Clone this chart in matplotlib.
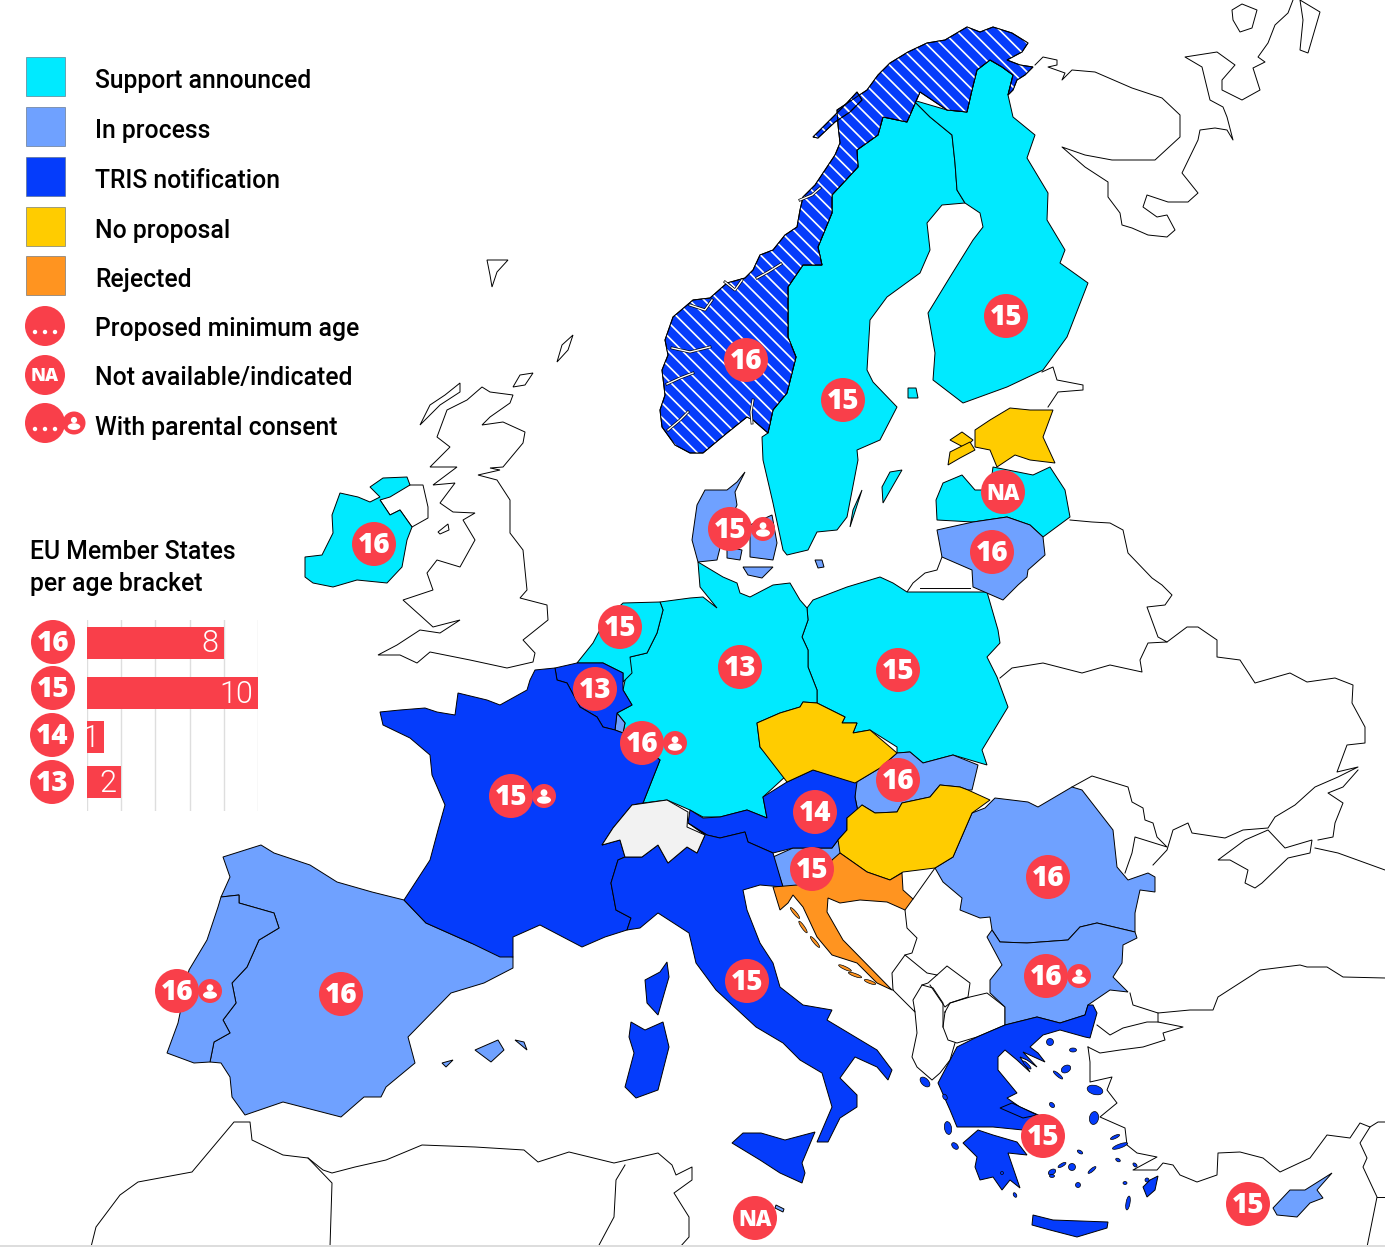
import numpy as np
import matplotlib
matplotlib.use("Agg")
import matplotlib.pyplot as plt
from matplotlib.patches import Polygon, Circle, Ellipse, Rectangle

W, H = 1385, 1247
LABEL_FONT = ['Roboto', 'DejaVu Sans']
BADGE_FONT = ['Open Sans', 'DejaVu Sans']

STATUS_COLOURS = {"Support announced": "#00eaff", "In process": "#6fa1ff", "TRIS notification": "#053cfb",
                  "No proposal": "#ffcc00", "Rejected": "#ff9420"}
RED = "#f93f4a"
SWISS = "#f2f2f2"

LEGEND_STATUSES = ["Support announced", "In process", "TRIS notification", "No proposal", "Rejected"]
LEGEND_OTHERS = ["Proposed minimum age", "Not available/indicated", "With parental consent"]
BRACKET_TITLE = "EU Member States\nper age bracket"
BRACKET_AGES = ["16", "15", "14", "13"]
BRACKET_COUNTS = [8, 10, 1, 2]

# Outlines of the map, in the picture's own grid
NORWAY = [(690,453),(675,445),(662,427),(660,410),(665,395),(662,370),(668,355),(665,340),(673,317),(693,300),(710,298),(727,283),(745,278),(753,270),(760,255),(773,250),(785,235),(797,227),(800,210),(803,197),(815,185),(827,167),(835,155),(840,143),(838,125),(837,110),(852,100),(867,90),(878,75),(890,63),(908,52),(927,43),(945,40),(967,27),(980,32),(993,27),(1012,33),(1028,43),(1022,52),(1007,60),(1020,65),(1033,67),(1025,75),(1017,80),(1013,90),(1008,95),(1013,75),(1002,67),(990,60),(977,70),(972,90),(967,112),(947,110),(932,100),(920,92),(907,122),(883,117),(878,135),(857,150),(858,167),(832,195),(832,213),(818,247),(822,265),(803,265),(788,287),(788,337),(796,357),(787,393),(773,410),(768,433),(753,420),(747,417),(727,433),(703,453)]
LOFOTEN = [(813,137),(825,125),(845,105),(857,92),(862,100),(850,112),(835,122),(818,138)]
FJORDS = [[(672,348),(690,352),(710,347)], [(667,384),(680,378),(693,373)], [(753,400),(751,412),(752,423)], [(757,278),(768,272),(781,264)], [(690,305),(705,310),(712,300)], [(668,430),(680,420),(688,412)], [(725,282),(735,290),(742,280)], [(800,200),(812,195),(820,188)]]
SWEDEN = [(913,100),(920,92),(907,122),(883,117),(878,135),(857,150),(858,167),(832,195),(832,213),(818,247),(822,265),(803,265),(788,287),(788,337),(796,357),(787,393),(773,410),(768,433),(762,437),(763,460),(773,503),(783,550),(787,555),(808,550),(817,532),(837,530),(847,517),(858,460),(857,450),(880,440),(897,407),(873,382),(867,370),(870,320),(887,297),(920,273),(930,250),(927,223),(942,205),(965,203),(957,190),(955,163),(952,135),(930,117)]
FINLAND = [(913,100),(930,117),(952,135),(955,163),(957,190),(965,203),(980,213),(983,227),(973,240),(950,277),(928,313),(935,353),(933,380),(963,403),(1007,387),(1043,370),(1067,337),(1088,283),(1060,263),(1065,250),(1047,220),(1048,193),(1027,158),(1035,135),(1013,117),(1008,95),(1013,75),(1002,67),(990,60),(977,70),(972,90),(967,112),(947,110)]
ESTONIA = [(975,430),(990,420),(1010,408),(1030,410),(1053,410),(1043,437),(1055,463),(1030,460),(1015,455),(997,467),(990,450),(975,447)]
ESTONIA_ISLES = [[(950,440),(962,432),(973,440),(965,448)], [(948,465),(950,452),(970,442),(975,450),(960,458)]]
LATVIA = [(937,520),(936,500),(943,483),(962,475),(975,490),(990,490),(993,467),(1033,475),(1050,467),(1065,490),(1070,517),(1043,537),(1030,525),(1007,517),(973,522)]
LITHUANIA = [(937,530),(973,522),(1007,517),(1030,525),(1043,537),(1045,555),(1028,570),(1027,577),(1018,585),(1003,600),(973,587),(972,570),(942,557)]
POLAND = [(813,600),(847,587),(880,577),(893,583),(907,592),(987,592),(998,630),(1000,643),(987,657),(997,677),(1008,707),(982,750),(987,765),(953,755),(923,763),(910,752),(897,753),(897,747),(870,730),(853,733),(857,723),(842,723),(845,717),(817,703),(817,690),(808,667),(808,650),(802,637),(808,620),(807,608)]
GERMANY = [(698,562),(723,577),(737,583),(740,593),(750,597),(773,585),(790,583),(800,600),(807,608),(808,620),(802,637),(808,650),(808,667),(817,690),(817,703),(803,702),(800,707),(780,713),(757,723),(760,747),(787,775),(763,797),(767,818),(747,810),(720,817),(703,817),(690,810),(667,800),(643,803),(660,760),(640,745),(623,733),(625,723),(617,713),(632,705),(623,690),(630,657),(647,653),(657,633),(663,610),(660,602),(690,598),(703,597),(717,608),(700,587)]
JUTLAND = [(745,472),(737,482),(727,490),(705,490),(697,505),(692,540),(698,562),(717,560),(722,540),(730,520),(737,505),(735,492)]
DANISH_ISLES = [[(750,525),(772,515),(777,543),(773,560),(750,557)], [(727,547),(742,550),(740,560),(727,558)], [(743,567),(773,567),(762,578),(748,575)], [(815,560),(822,560),(824,567),(818,568)]]
NETHERLANDS = [(623,603),(660,602),(663,610),(657,633),(647,653),(630,657),(632,673),(623,682),(623,673),(603,663),(577,663),(593,643),(605,620)]
BELGIUM = [(555,668),(577,663),(603,663),(623,673),(623,690),(632,705),(617,713),(615,730),(603,727),(597,717),(580,707),(567,683),(557,680)]
LUXEMBOURG = [(617,713),(625,723),(623,733),(615,730)]
FRANCE = [(530,680),(535,670),(555,668),(557,680),(567,683),(580,707),(597,717),(603,727),(615,730),(623,733),(640,745),(660,760),(643,803),(632,805),(613,828),(602,845),(620,840),(625,857),(618,860),(611,883),(616,910),(631,918),(627,930),(605,937),(582,947),(540,925),(513,937),(513,957),(500,957),(471,943),(426,923),(404,900),(430,860),(438,830),(445,805),(432,775),(430,755),(410,738),(383,725),(380,712),(400,710),(425,708),(437,712),(455,715),(458,693),(487,700),(500,705),(527,690)]
CORSICA = [(667,962),(669,977),(658,1015),(647,1003),(645,980),(660,972)]
SWITZERLAND = [(632,805),(667,800),(688,812),(687,827),(705,835),(697,853),(687,847),(668,863),(658,845),(642,857),(625,857),(620,840),(602,845),(613,828)]
AUSTRIA = [(787,782),(813,770),(857,782),(855,797),(858,812),(847,818),(847,830),(838,840),(832,848),(793,848),(773,853),(748,842),(745,832),(720,838),(707,835),(688,823),(690,810),(703,818),(720,817),(747,810),(767,818),(763,797)]
ITALY = [(688,823),(707,835),(720,838),(745,832),(748,842),(773,853),(783,887),(760,885),(743,890),(747,910),(760,943),(773,963),(780,987),(803,1005),(832,1010),(827,1020),(877,1050),(892,1070),(888,1080),(877,1067),(855,1057),(840,1078),(857,1095),(857,1107),(840,1118),(828,1142),(817,1142),(832,1107),(822,1073),(800,1060),(783,1043),(756,1027),(716,990),(696,963),(689,933),(658,913),(640,928),(627,930),(631,918),(616,910),(611,883),(618,860),(625,857),(642,857),(658,845),(668,863),(687,847),(697,853),(705,835)]
SICILY = [(815,1132),(802,1163),(805,1173),(802,1183),(780,1173),(760,1160),(732,1143),(743,1133),(761,1133),(785,1140)]
SARDINIA = [(631,1022),(645,1030),(663,1022),(669,1047),(658,1090),(636,1098),(625,1087),(634,1053),(629,1037)]
SLOVENIA = [(773,857),(793,848),(832,848),(838,840),(843,855),(833,860),(827,877),(803,887),(783,887)]
CROATIA = [(773,887),(797,885),(827,877),(832,860),(840,853),(867,872),(890,880),(902,873),(903,890),(913,899),(905,910),(887,902),(860,900),(840,903),(828,898),(827,912),(843,940),(892,990),(877,983),(857,963),(832,955),(817,937),(803,907),(793,895),(788,903),(780,910)]
HUNGARY = [(840,853),(838,840),(847,830),(847,818),(862,805),(875,813),(897,812),(902,803),(930,797),(940,785),(960,787),(968,790),(990,800),(972,813),(953,857),(935,868),(903,872),(890,880),(867,872)]
SLOVAKIA = [(855,783),(880,768),(897,753),(910,752),(923,763),(953,755),(978,765),(972,790),(968,790),(960,787),(940,785),(930,797),(902,803),(897,812),(875,813),(862,805),(858,812),(855,797)]
CZECHIA = [(757,723),(780,713),(800,707),(803,702),(817,703),(845,717),(842,723),(857,723),(853,733),(870,730),(897,753),(880,768),(855,783),(813,770),(787,782),(760,747)]
ROMANIA = [(935,868),(953,857),(972,813),(985,808),(995,798),(1028,802),(1038,807),(1072,787),(1082,790),(1113,830),(1117,867),(1128,880),(1148,873),(1155,877),(1155,892),(1140,890),(1135,913),(1135,932),(1097,923),(1080,927),(1068,940),(1027,943),(1000,942),(992,930),(990,917),(980,918),(960,910),(962,898),(943,882)]
BULGARIA = [(987,937),(992,930),(1000,942),(1027,943),(1068,940),(1080,927),(1097,923),(1135,932),(1137,938),(1123,945),(1122,963),(1113,977),(1128,992),(1110,990),(1088,1005),(1085,1015),(1060,1023),(1037,1017),(1005,1025),(1005,1007),(990,993),(990,980),(1002,965)]
GREECE = [(938,1083),(957,1047),(977,1037),(1005,1025),(1037,1017),(1060,1023),(1085,1015),(1088,1005),(1093,1005),(1097,1013),(1090,1038),(1085,1037),(1060,1030),(1043,1035),(1030,1047),(1038,1053),(1045,1062),(1023,1052),(1037,1067),(1027,1060),(1020,1057),(1030,1072),(1017,1060),(1005,1050),(998,1057),(998,1070),(1017,1093),(1007,1098),(1020,1107),(1043,1117),(1023,1130),(993,1127),(973,1127),(957,1127),(950,1110)]
PELOPONNESE = [(963,1143),(978,1130),(993,1135),(1017,1142),(1027,1155),(1008,1153),(1020,1188),(1010,1180),(1002,1190),(993,1177),(980,1180),(975,1167),(977,1157)]
CRETE = [(1032,1225),(1033,1215),(1053,1220),(1108,1222),(1107,1228),(1077,1237),(1050,1230)]
EVIA = [(1012,1103),(1037,1115),(1023,1118),(1000,1108)]
RHODES = [(1143,1187),(1150,1180),(1158,1176),(1155,1190),(1147,1197)]
CYPRUS = [(1273,1208),(1290,1190),(1305,1190),(1332,1173),(1317,1190),(1323,1198),(1310,1203),(1297,1217),(1277,1215)]
SPAIN = [(223,857),(261,845),(274,853),(310,865),(337,882),(372,892),(404,900),(426,923),(471,943),(513,957),(513,968),(484,983),(451,993),(408,1037),(415,1063),(386,1087),(381,1097),(364,1097),(341,1117),(283,1102),(245,1115),(232,1097),(230,1077),(221,1063),(210,1062),(214,1042),(230,1033),(223,1020),(236,1003),(232,983),(247,967),(259,940),(279,928),(274,913),(239,903),(239,895),(221,897),(230,877)]
PORTUGAL = [(221,897),(239,895),(239,903),(274,913),(279,928),(259,940),(247,967),(232,983),(236,1003),(223,1020),(230,1033),(214,1042),(210,1062),(194,1063),(167,1053),(178,1023),(189,970),(207,940),(218,907)]
BALEARICS = [[(475,1050),(498,1040),(504,1050),(491,1062)], [(515,1040),(524,1042),(527,1050)], [(442,1063),(453,1060),(446,1067)]]
IRELAND = [(305,577),(305,557),(322,555),(333,533),(332,515),(340,493),(358,497),(370,502),(380,497),(370,487),(383,478),(407,477),(410,485),(390,497),(380,500),(390,515),(400,510),(412,527),(407,540),(402,567),(387,583),(357,580),(333,587),(313,583)]
MALTA = [(776,1205),(784,1209),(783,1212),(775,1208)]
ALAND = [(908,388),(916,388),(918,398),(908,398)]
OLAND = [(862,490),(850,527),(853,510)]
GOTLAND = [(902,470),(883,503),(882,487),(890,472)]

STATUS_SHAPES = {
    "Support announced": [SWEDEN, FINLAND, LATVIA, POLAND, GERMANY, NETHERLANDS, IRELAND, ALAND, OLAND, GOTLAND],
    "In process": [JUTLAND, *DANISH_ISLES, LITHUANIA, LUXEMBOURG, SLOVENIA, SLOVAKIA, ROMANIA, BULGARIA, SPAIN, PORTUGAL, *BALEARICS, CYPRUS, MALTA],
    "TRIS notification": [BELGIUM, FRANCE, CORSICA, AUSTRIA, ITALY, SICILY, SARDINIA, GREECE, PELOPONNESE, CRETE, EVIA, RHODES],
    "No proposal": [ESTONIA, *ESTONIA_ISLES, CZECHIA, HUNGARY],
    "Rejected": [CROATIA],
}
CROATIAN_ISLES = [(795,913,14,3,50),(803,927,14,3,55),(815,942,14,3,50),(845,968,14,3,25),(855,975,14,3,20),(870,982,12,3,20)]
GREEK_ISLES = [(925,1082,12,7,45),(945,1097,6,4,60),(948,1128,7,13,-10),(955,1146,8,5,45),(1050,1042,7,7,0),(1073,1050,7,4,0),(1066,1069,10,7,-30),(1095,1090,16,9,15),(1094,1118,9,13,10),(1052,1105,6,4,45),(1115,1137,10,3,-25),(1120,1146,16,4,-20),(1118,1160,5,3,30),(1080,1152,6,3,30),(1072,1167,7,7,0),(1062,1165,9,3,-30),(1092,1170,10,3,-40),(1052,1172,8,5,-30),(1078,1185,5,5,0),(1052,1176,5,3,0),(1135,1165,5,3,45),(1125,1183,4,3,0),(1128,1203,4,14,10),(1147,1180,4,4,0),(1015,1195,5,3,60),(1058,1075,12,3,40),(1027,1065,11,3,45),(1002,1173,3,3,0)]

GREAT_BRITAIN = [(482,387),(490,392),(513,395),(510,403),(490,417),(482,425),(503,422),(525,432),(523,443),(503,467),(490,468),(500,470),(478,475),(497,480),(510,500),(510,533),(523,550),(527,590),(520,598),(547,605),(548,620),(523,640),(535,653),(533,662),(507,668),(470,660),(430,652),(417,663),(400,655),(378,655),(397,645),(420,630),(440,633),(460,620),(433,627),(422,617),(403,600),(433,590),(427,573),(437,560),(460,567),(475,540),(463,520),(475,513),(453,512),(440,503),(455,483),(433,485),(457,467),(430,467),(450,447),(437,437),(447,410),(467,400)]
NORTHERN_IRELAND = [(380,500),(407,485),(423,485),(428,507),(428,518),(412,527),(400,510),(390,515)]
HEBRIDES = [(420,425),(430,405),(445,395),(460,383),(460,392),(440,405),(425,420)]
SHETLAND = [(557,362),(562,345),(573,335),(568,350)]
ORKNEY = [(513,387),(520,375),(533,373),(525,385)]
FAROE = [(487,260),(508,260),(497,272),(492,287),(490,275)]
ISLE_OF_MAN = [(438,532),(448,524),(449,530),(440,534)]
RUSSIA_N = [(1035,65),(1043,57),(1057,60),(1057,65),(1048,67),(1065,73),(1062,80),(1072,70),(1095,72),(1132,88),(1162,98),(1180,115),(1180,137),(1155,160),(1112,160),(1085,155),(1062,147),(1085,167),(1108,182),(1108,197),(1120,213),(1122,225),(1132,228),(1148,235),(1167,237),(1175,230),(1167,215),(1157,217),(1143,207),(1147,195),(1168,202),(1188,202),(1198,193),(1182,173),(1198,140),(1200,130),(1215,128),(1227,130),(1233,140),(1227,117),(1223,107),(1210,100),(1202,67),(1185,57),(1217,52),(1235,65),(1222,80),(1222,90),(1242,100),(1260,90),(1253,68),(1265,62),(1258,57),(1268,43),(1275,25),(1288,13),(1293,0)]
KOLGUEV = [(1232,10),(1242,4),(1257,10),(1252,28),(1240,32),(1233,20)]
VAIGACH = [(1300,0),(1320,12),(1308,53),(1300,50),(1303,20)]
GULF_FINLAND = [(1042,372),(1053,367),(1057,380),(1083,385),(1083,390),(1058,392),(1048,407)]
BELARUS = [(1070,520),(1092,522),(1110,523),(1123,530),(1128,553),(1152,578),(1162,585),(1172,595),(1165,605),(1147,607),(1158,637),(1167,642),(1148,643),(1140,660),(1142,672),(1110,665),(1082,673),(1043,663),(1012,668),(1000,678)]
UKRAINE = [(1167,642),(1187,627),(1198,627),(1217,640),(1217,657),(1240,660),(1255,683),(1290,673),(1307,682),(1335,678),(1353,685),(1352,703),(1365,727),(1365,743),(1347,745),(1337,772),(1358,767),(1338,777),(1315,787),(1295,805),(1275,817),(1268,828),(1243,830),(1225,838),(1192,833),(1188,823),(1173,830),(1167,850),(1153,865)]
CRIMEA = [(1218,860),(1245,840),(1268,830),(1285,848),(1312,840),(1310,853),(1288,858),(1262,883),(1255,888),(1245,883),(1248,870),(1230,860)]
AZOV = [(1318,840),(1333,837),(1335,823),(1343,803),(1328,793),(1343,787),(1358,770)]
RUSSIA_S = [(1315,848),(1338,853),(1385,870)]
MOLDOVA = [(1072,787),(1092,776),(1128,787),(1132,802),(1143,808),(1145,820),(1153,823),(1157,837),(1167,847),(1135,837),(1132,853),(1125,873)]
KALININGRAD = [(907,592),(913,583),(925,573),(937,570),(942,557)]
KALININGRAD_S = [(920,588),(970,588)]
BOSNIA_E = [(905,910),(907,928),(917,938),(912,953),(905,955)]
SERBIA_N = [(913,899),(935,868)]
MONTENEGRO = [(893,990),(892,973),(905,955),(927,973),(937,975),(928,983),(922,985),(913,1000),(915,1012),(893,990)]
KOSOVO = [(937,975),(947,966),(970,983),(968,997),(950,1003),(945,1007),(930,985)]
MACEDONIA = [(945,1012),(950,1003),(970,997),(987,993),(1005,1007),(1005,1025),(977,1037),(957,1043),(948,1040),(943,1027),(945,1012)]
ALBANIA = [(915,1012),(917,1033),(912,1057),(917,1067),(932,1080),(940,1073),(950,1060),(955,1043)]
ALBANIA_N = [(922,985),(933,988),(943,1003),(943,1027)]
TURKEY_N = [(1130,993),(1133,1005),(1158,1013),(1190,1010),(1213,1010),(1218,997),(1260,970),(1300,965),(1307,967),(1327,967),(1343,977),(1385,978)]
THRACE = [(1158,1013),(1158,1022),(1183,1027),(1163,1033),(1165,1040),(1143,1047),(1120,1050),(1100,1053),(1088,1047)]
THRACE_N = [(1097,1025),(1110,1035),(1123,1028),(1147,1022),(1158,1022)]
TURKEY_W = [(1088,1047),(1090,1062),(1090,1082),(1112,1077),(1107,1090),(1117,1103),(1100,1117),(1125,1128),(1127,1145),(1137,1153),(1157,1157),(1133,1170),(1157,1170),(1163,1163),(1173,1165),(1180,1175),(1197,1182),(1217,1175),(1218,1153),(1240,1152),(1263,1158),(1280,1172),(1310,1158),(1327,1135),(1350,1138),(1360,1123),(1370,1127),(1360,1143),(1367,1158),(1363,1167),(1377,1197),(1367,1247)]
SYRIA = [(1370,1127),(1378,1122),(1385,1122)]
SYRIA_S = [(1377,1197),(1385,1197)]
AFRICA = [(91,1247),(96,1227),(120,1195),(138,1182),(192,1172),(234,1122),(250,1122),(252,1140),(283,1155),(308,1158),(323,1170),(332,1173),(355,1167),(386,1160),(422,1145),(475,1147),(524,1150),(538,1162),(569,1152),(614,1163),(658,1153),(672,1165),(676,1175),(692,1167),(692,1180),(674,1193),(689,1217),(689,1237),(680,1247)]
MOROCCO_E = [(308,1158),(332,1183),(330,1247)]
ALGERIA_E = [(625,1165),(616,1180),(614,1217),(598,1247)]
CONTEXT_AREAS = [GREAT_BRITAIN, NORTHERN_IRELAND, HEBRIDES, SHETLAND, ORKNEY, FAROE, ISLE_OF_MAN, KOLGUEV, VAIGACH, CRIMEA]
CONTEXT_LINES = [RUSSIA_N, GULF_FINLAND, BELARUS, UKRAINE, AZOV, RUSSIA_S, MOLDOVA, KALININGRAD, KALININGRAD_S, BOSNIA_E, SERBIA_N, MONTENEGRO, KOSOVO, MACEDONIA, ALBANIA, ALBANIA_N, TURKEY_N, THRACE, THRACE_N, TURKEY_W, SYRIA, SYRIA_S, AFRICA, MOROCCO_E, ALGERIA_E]

# Proposed ages per country and where each badge sits
AGE_LABELS = ["15","15","16","NA","16","15","16","15","13","15","13","16","15","16","14","15","16","16","16","16","15","15","15","NA"]
AGE_X = [1006,843,746,1003,992,730,374,620,740,898,595,642,511,898,815,812,1048,1046,177,341,747,1043,1248,755]
AGE_Y = [316,400,360,492,552,529,544,627,667,670,689,743,796,780,812,869,877,976,991,994,981,1136,1204,1218]
PARENTAL_CONSENT = [False,False,False,False,False,True,False,False,False,False,False,True,True,False,False,False,False,True,True,False,False,False,False,False]

R_BIG, R_SMALL, CONSENT_OFFSET = 22, 12, 33

fig = plt.figure(figsize=(W/100, H/100), dpi=100)
ax = fig.add_axes([0, 0, 1, 1])
ax.set_xlim(0, W); ax.set_ylim(H, 0); ax.axis("off")

LW = 0.7
for pts in CONTEXT_AREAS:
    ax.add_patch(Polygon(pts, closed=True, fc="white", ec="black", lw=LW, zorder=1))
for pts in CONTEXT_LINES:
    xs, ys = zip(*pts)
    ax.plot(xs, ys, color="black", lw=LW, zorder=1, solid_joinstyle="round")
ax.add_patch(Rectangle((0, 1245), W, 2, fc="#dddddd", ec="none", zorder=1))

for status, shapes in STATUS_SHAPES.items():
    for pts in shapes:
        ax.add_patch(Polygon(pts, closed=True, fc=STATUS_COLOURS[status], ec="black", lw=LW, zorder=2))
ax.add_patch(Polygon(SWITZERLAND, closed=True, fc=SWISS, ec="black", lw=LW, zorder=2))
for cx, cy, w, h, a in CROATIAN_ISLES:
    ax.add_patch(Ellipse((cx, cy), w, h, angle=a, fc=STATUS_COLOURS["Rejected"], ec="black", lw=0.5, zorder=2))
for cx, cy, w, h, a in GREEK_ISLES:
    ax.add_patch(Ellipse((cx, cy), w, h, angle=a, fc=STATUS_COLOURS["TRIS notification"], ec="black", lw=0.5, zorder=2))

# Norway: TRIS colour with white diagonal stripes
for pts in (NORWAY, LOFOTEN):
    p = Polygon(pts, closed=True, fc=STATUS_COLOURS["TRIS notification"], ec="black", lw=LW, zorder=3)
    ax.add_patch(p)
    for c in np.arange(-1100, 0, 14.5):
        ln, = ax.plot([600, 1100], [600 + c, 1100 + c], color="white", lw=1.2, zorder=3.1)
        ln.set_clip_path(p)
    ax.add_patch(Polygon(pts, closed=True, fc="none", ec="black", lw=LW, zorder=3.2))
for pts in FJORDS:
    xs, ys = zip(*pts)
    ax.plot(xs, ys, color="black", lw=2.0, zorder=3.3)
    ax.plot(xs, ys, color="white", lw=1.0, zorder=3.4)


def person(cx, cy, s=1.0):
    ax.add_patch(Circle((cx, cy - 3.3*s), 3.4*s, fc="white", ec="none", zorder=6))
    ax.add_patch(Ellipse((cx, cy + 4*s), 14*s, 7.5*s, fc="white", ec="none", zorder=6))


def badge(cx, cy, label, r=R_BIG, size=22.5):
    ax.add_patch(Circle((cx, cy), r, fc=RED, ec="none", zorder=5))
    ax.text(cx, cy + 1.8, label, color="white", ha="center", va="center", fontsize=size,
            family=BADGE_FONT, weight=800, zorder=6)


for x, y, lab, pc in zip(AGE_X, AGE_Y, AGE_LABELS, PARENTAL_CONSENT):
    if pc:
        ax.add_patch(Circle((x + CONSENT_OFFSET, y), R_SMALL, fc=RED, ec="none", zorder=4.5))
        person(x + CONSENT_OFFSET, y)
    badge(x, y, lab, size=15.5 if lab == "NA" else 20)

# Legend
TEXT_X = 95
LABEL_SIZE = 17.8
for lab, y0 in zip(LEGEND_STATUSES, [57, 107, 157, 207, 256]):
    col = STATUS_COLOURS[lab]
    ax.add_patch(Rectangle((26, y0), 39, 39, fc=col, ec="#556677", lw=0.4, zorder=4))
    ax.text(TEXT_X, y0 + 24, lab, fontsize=LABEL_SIZE, family=LABEL_FONT, weight=500, va="center", color="black", zorder=6)
for lab, y in zip(LEGEND_OTHERS, [329, 378, 428]):
    ax.text(TEXT_X, y, lab, fontsize=LABEL_SIZE, family=LABEL_FONT, weight=500, va="center", color="black", zorder=6)


def dots(cx, cy):
    for dx in (-10, 0, 10):
        ax.add_patch(Circle((cx + dx, cy + 6), 2.2, fc="white", ec="none", zorder=6))


ax.add_patch(Circle((45, 326), 20, fc=RED, ec="none", zorder=5)); dots(45, 326)
badge(45, 375, "NA", r=20, size=13)
ax.add_patch(Circle((74, 423), 11.5, fc=RED, ec="none", zorder=4.5)); person(74, 423, 0.9)
ax.add_patch(Circle((45, 423), 20, fc=RED, ec="none", zorder=5)); dots(45, 423)

# Age-bracket chart
ax.text(30, 568, BRACKET_TITLE, fontsize=LABEL_SIZE, family=LABEL_FONT, weight=500, va="center", linespacing=1.4, color="black")
bx = fig.add_axes([87/W, 1 - 811/H, 171/W, (811 - 620)/H])
bx.patch.set_alpha(0)
bx.set_xlim(0, 10); bx.set_ylim(811, 620)
bx.set_xticks([0, 2, 4, 6, 8, 10]); bx.set_yticks([])
bx.tick_params(length=0, labelbottom=False)
bx.grid(axis="x", color="#dedede", lw=1); bx.set_axisbelow(True)
for s in bx.spines.values():
    s.set_visible(False)
bar_y = [642.5, 693, 737, 782]
bx.barh(bar_y, BRACKET_COUNTS, height=32, color=RED, zorder=3)
for v, y in zip(BRACKET_COUNTS, bar_y):
    bx.text(v - 0.3, y + 1, str(v), color="white", ha="right", va="center", fontsize=22,
            family=['Roboto', 'DejaVu Sans'], weight=300, zorder=4)
for lab, x, y in zip(BRACKET_AGES, [53, 53, 52, 52], [642, 688, 735, 782]):
    badge(x, y, lab, size=20)

fig.savefig("out.png", dpi=100, facecolor="white")
